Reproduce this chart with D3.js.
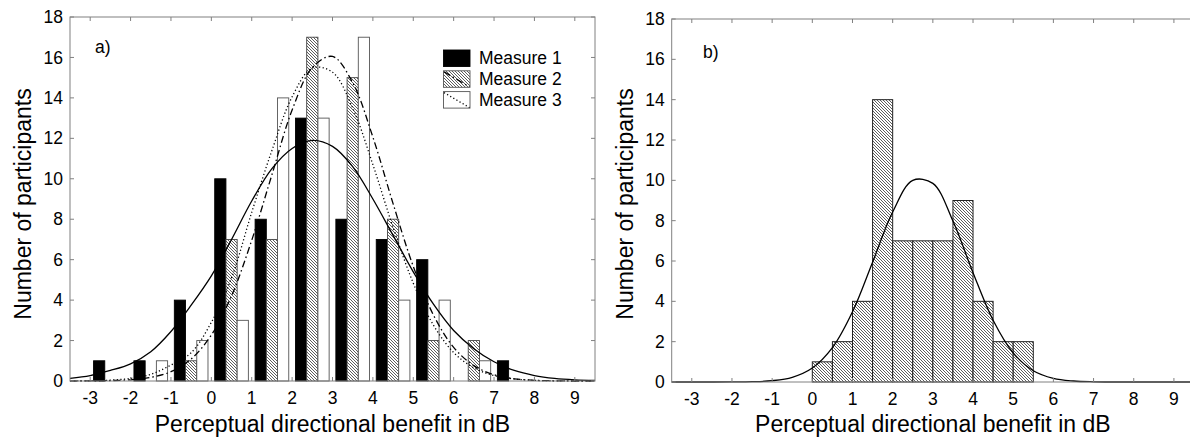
<!DOCTYPE html>
<html>
<head>
<meta charset="utf-8">
<script src="https://cdn.jsdelivr.net/npm/d3@7"></script>
<style>
	body{margin:0;background:#fff;overflow:hidden}
	svg{display:block;font-family:"Liberation Sans",Arial,sans-serif}
</style>
</head>
<body>
<svg></svg>
<script>
// data

// panel a) : bins of 1 dB, three measures
const binCenters=[-2.5,-1.5,-0.5,0.5,1.5,2.5,3.5,4.5,5.5,6.5,7.5]
const measure1=[1,1,4,10,8,13,8,7,6,0,1]
const measure2=[0,0,1,7,7,17,15,8,2,2,0]
const measure3=[0,1,2,3,14,13,17,4,4,1,0]

// fitted curves
const fitX=[-3.5,-3,-2.5,-2,-1.5,-1,-0.5,0,0.5,1,1.5,2,2.5,3,3.5,4,4.5,5,5.5,6,6.5,7,7.5,8,8.5,9,9.5]
const fit1=[0.13,0.27,0.52,0.85,1.45,2.45,3.75,5.2,7.0,8.9,10.5,11.5,11.9,11.6,10.6,9.0,7.2,5.4,3.8,2.5,1.6,0.95,0.52,0.27,0.13,0.06,0.03]
const fit2=[0,0.005,0.02,0.06,0.18,0.46,1.09,2.27,4.21,6.96,10.2,13.4,15.5,16.05,14.75,12.06,8.77,5.67,3.26,1.66,0.76,0.31,0.11,0.035,0.01,0,0]
const fit3=[0,0.01,0.04,0.13,0.33,0.79,1.4,2.9,5.1,8.34,11.4,14.05,15.48,15.27,13.5,10.7,7.6,4.84,2.76,1.41,0.65,0.27,0.1,0.03,0.01,0,0]

// panel b) : bins of 0.5 dB
const binStartsB=[0,0.5,1,1.5,2,2.5,3,3.5,4,4.5,5]
const countsB=[1,2,4,14,7,7,7,9,4,2,2]
const fitB=[0,0,0,0.003,0.015,0.065,0.23,0.69,1.7,3.48,5.94,8.43,10.0,9.85,7.98,5.42,3.06,1.44,0.56,0.18,0.05,0.01,0,0,0,0,0]

// ticks
const xTicks=[-3,-2,-1,0,1,2,3,4,5,6,7,8,9]
const yTicks=[0,2,4,6,8,10,12,14,16,18]
const seriesNames=["Measure 1","Measure 2","Measure 3"]

const svg=d3.select("svg")
	.attr("width",1190)
	.attr("height",443)

// hatch pattern for Measure 2 and panel b
const defs=svg.append("defs")
const pat=defs.append("pattern")
	.attr("id","hatch")
	.attr("patternUnits","userSpaceOnUse")
	.attr("width",3)
	.attr("height",3)
pat.append("rect")
	.attr("width",3)
	.attr("height",3)
	.attr("fill","#fff")
pat.append("path")
	.attr("d","M-1,-1L4,4M-1,2L1,4M2,-1L4,1")
	.attr("stroke","#333")
	.attr("stroke-width",0.8)

const fills=["#000","url(#hatch)","#fff"]
const strokes=["#000","#444","#555"]
const dashes=[null,"7,3,1.5,3","1.2,2.4"]

// draws frame, ticks and labels of one panel
const drawFrame=function(g,x,y,left,right,top,bottom,letter,letterX,letterY){
	g.append("rect")
		.attr("x",left)
		.attr("y",top)
		.attr("width",right-left)
		.attr("height",bottom-top)
		.attr("fill","none")
		.attr("stroke","#808080")
		.attr("stroke-width",1)

	const tickColor="#808080"
	// x ticks, inward on bottom and top
	xTicks.forEach(t=>{
		g.append("line").attr("x1",x(t)).attr("x2",x(t)).attr("y1",bottom).attr("y2",bottom-4).attr("stroke",tickColor)
		g.append("line").attr("x1",x(t)).attr("x2",x(t)).attr("y1",top).attr("y2",top+4).attr("stroke",tickColor)
	})
	yTicks.forEach(t=>{
		g.append("line").attr("x1",left).attr("x2",left+4).attr("y1",y(t)).attr("y2",y(t)).attr("stroke",tickColor)
		g.append("line").attr("x1",right).attr("x2",right-4).attr("y1",y(t)).attr("y2",y(t)).attr("stroke",tickColor)
	})

	g.selectAll("text.xt")
		.data(xTicks)
		.enter()
		.append("text")
		.attr("class","xt")
		.attr("x",d=>x(d))
		.attr("y",bottom+23)
		.attr("text-anchor","middle")
		.style("font-size","17.5px")
		.text(d=>d)

	g.selectAll("text.yt")
		.data(yTicks)
		.enter()
		.append("text")
		.attr("class","yt")
		.attr("x",left-7)
		.attr("y",d=>y(d))
		.attr("dy","0.35em")
		.attr("text-anchor","end")
		.style("font-size","17.5px")
		.text(d=>d)

	g.append("text")
		.attr("x",(left+right)/2)
		.attr("y",431.5)
		.attr("text-anchor","middle")
		.style("font-size","23px")
		.text("Perceptual directional benefit in dB")

	g.append("text")
		.attr("transform","translate("+(left-39)+",204) rotate(-90)")
		.attr("text-anchor","middle")
		.style("font-size","23px")
		.text("Number of participants")

	g.append("text")
		.attr("x",letterX)
		.attr("y",letterY)
		.style("font-size","17.5px")
		.text(letter)
}

const lineFor=function(x,y){
	return d3.line()
		.x(d=>x(d[0]))
		.y(d=>y(Math.max(0,d[1])))
		.curve(d3.curveCatmullRom.alpha(0.5))
}

//---------------- panel a
const aLeft=70, aRight=595, aTop=17, aBottom=381
const xA=d3.scaleLinear().domain([-3.5,9.5]).range([aLeft,aRight])
const yA=d3.scaleLinear().domain([0,18]).range([aBottom,aTop])
const gA=svg.append("g")

// three bars side by side inside each bin
const inner=d3.scaleBand()
	.domain(seriesNames)
	.range([-0.4167,0.4167])

const seriesA=[measure1,measure2,measure3]
seriesA.forEach((vals,si)=>{
	const rows=vals
		.map((v,i)=>({c:binCenters[i],v:v}))
		.filter(d=>d.v>0)
	gA.selectAll("rect.s"+si)
		.data(rows)
		.enter()
		.append("rect")
		.attr("class","s"+si)
		.attr("x",d=>xA(d.c+inner(seriesNames[si])))
		.attr("width",xA(inner.bandwidth())-xA(0))
		.attr("y",d=>yA(d.v))
		.attr("height",d=>yA(0)-yA(d.v))
		.attr("fill",fills[si])
		.attr("stroke",strokes[si])
		.attr("stroke-width",0.9)
})

const fitsA=[fit1,fit2,fit3]
fitsA.forEach((vals,si)=>{
	gA.append("path")
		.datum(vals.map((v,i)=>[fitX[i],v]))
		.attr("d",lineFor(xA,yA))
		.attr("fill","none")
		.attr("stroke","#000")
		.attr("stroke-width",1.3)
		.attr("stroke-dasharray",dashes[si])
})

drawFrame(gA,xA,yA,aLeft,aRight,aTop,aBottom,"a)",95,53)

// legend
const legend=gA.append("g")
seriesNames.forEach((name,i)=>{
	const ly=50+i*20.8
	legend.append("rect")
		.attr("x",443.5)
		.attr("y",ly)
		.attr("width",26.5)
		.attr("height",16.5)
		.attr("fill",fills[i])
		.attr("stroke",i==0?"#000":"#555")
		.attr("stroke-width",0.9)
	if(i>0){
		legend.append("line")
			.attr("x1",444)
			.attr("y1",ly+1)
			.attr("x2",469.5)
			.attr("y2",ly+16)
			.attr("stroke","#000")
			.attr("stroke-width",1.3)
			.attr("stroke-dasharray",i==1?"7,3,1.5,3":"1.2,2.4")
	}
	legend.append("text")
		.attr("x",479)
		.attr("y",ly+8.3)
		.attr("dy","0.35em")
		.style("font-size","17.5px")
		.text(name)
})

//---------------- panel b
const bLeft=671.7, bRight=1194, bTop=19, bBottom=382
const xB=d3.scaleLinear().domain([-3.5,9.5]).range([bLeft,bRight])
const yB=d3.scaleLinear().domain([0,18]).range([bBottom,bTop])
const gB=svg.append("g")

gB.selectAll("rect.bar")
	.data(countsB)
	.enter()
	.append("rect")
	.attr("class","bar")
	.attr("x",(d,i)=>xB(binStartsB[i]))
	.attr("width",(d,i)=>xB(binStartsB[i]+0.5)-xB(binStartsB[i]))
	.attr("y",d=>yB(d))
	.attr("height",d=>yB(0)-yB(d))
	.attr("fill","url(#hatch)")
	.attr("stroke","#222")
	.attr("stroke-width",1)

gB.append("path")
	.datum(fitB.map((v,i)=>[fitX[i],v]))
	.attr("d",lineFor(xB,yB))
	.attr("fill","none")
	.attr("stroke","#000")
	.attr("stroke-width",1.3)

drawFrame(gB,xB,yB,bLeft,bRight,bTop,bBottom,"b)",703,58)
</script>
</body>
</html>
